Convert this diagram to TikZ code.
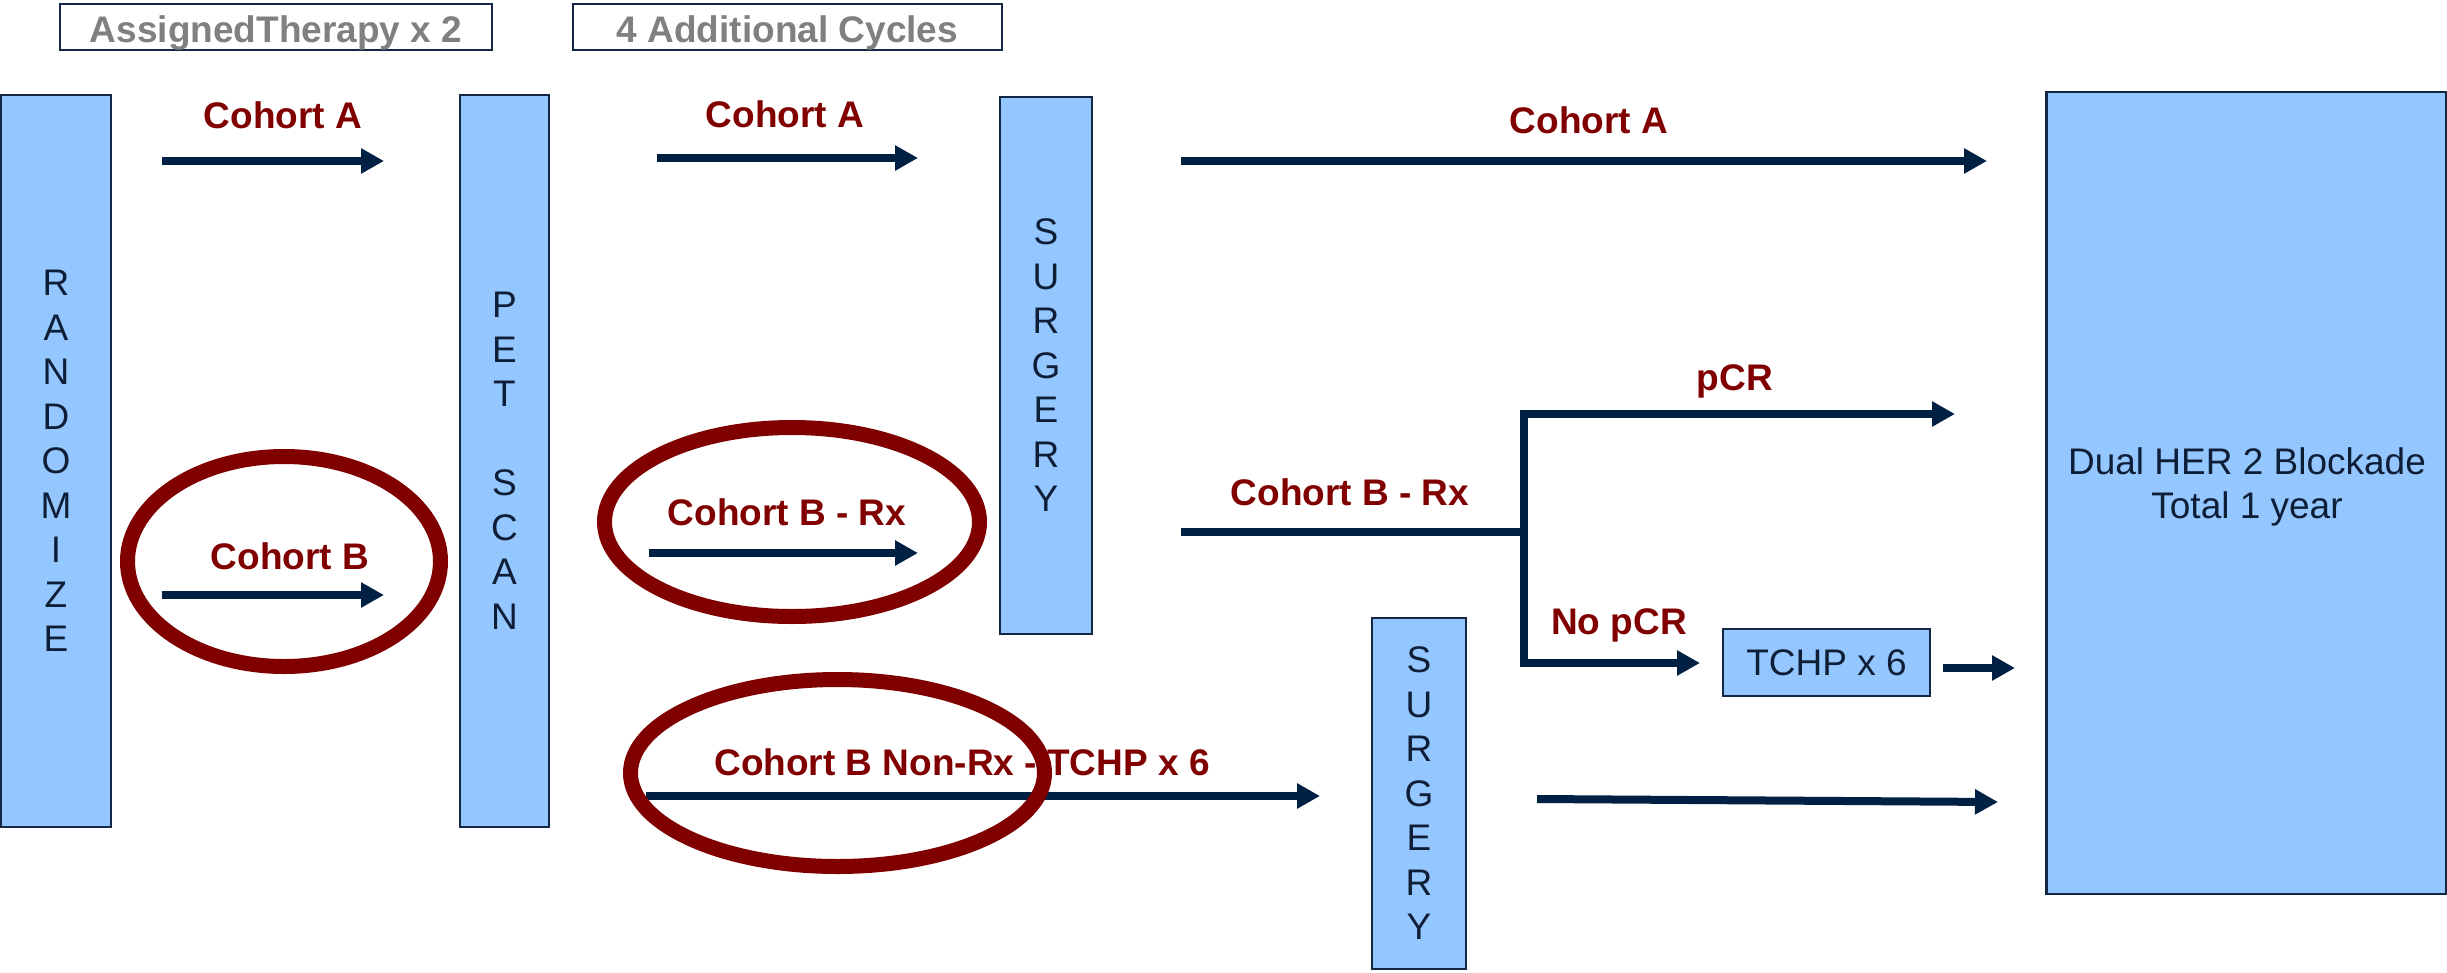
\documentclass[tikz,border=0pt]{standalone}
\usepackage{fontspec}
\setmainfont{Liberation Sans}
\usetikzlibrary{arrows.meta,shapes.geometric}
\definecolor{navy}{RGB}{0,33,68}
\definecolor{boxfill}{RGB}{148,199,255}
\definecolor{boxline}{RGB}{20,40,70}
\definecolor{maroon}{RGB}{128,0,0}
\definecolor{txtgray}{RGB}{128,128,128}
\definecolor{darktxt}{RGB}{15,30,55}
\begin{document}
\begin{tikzpicture}[x=1pt,y=-1pt,
  bluebox/.style={draw=boxline, fill=boxfill, line width=2.5pt, inner sep=0pt, outer sep=0pt, align=center, text=darktxt, font=\fontsize{37}{44.5}\selectfont},
  hdrbox/.style={draw=boxline, fill=white, line width=2.5pt, inner sep=0pt, outer sep=0pt, text=txtgray, text height=30pt, text depth=0pt, font=\bfseries\fontsize{37}{44}\selectfont},
  plaintxt/.style={inner sep=0pt, align=center, text=darktxt, font=\fontsize{37}{44.5}\selectfont},
  lbl/.style={text=maroon, font=\bfseries\fontsize{37}{44}\selectfont, anchor=base, inner sep=0pt},
  arr/.style={draw=navy, line width=8pt, -{Triangle[length=23pt,width=24pt]}},
  ln/.style={draw=navy, line width=8pt, line join=miter},
  ring/.style={draw=maroon, line width=15pt}
]
\useasboundingbox (0,0) rectangle (2447,972);

% header boxes
\node[hdrbox, minimum width=432pt, minimum height=46pt] (hdr1) at (276,27) {AssignedTherapy x 2};
\node[hdrbox, minimum width=429pt, minimum height=46pt] (hdr2) at (787.5,27) {4 Additional Cycles};

% vertical boxes
\node[bluebox, minimum width=110pt, minimum height=732pt] (rand) at (56,461) {R\\A\\N\\D\\O\\M\\I\\Z\\E};
\node[bluebox, minimum width=89pt, minimum height=732pt] (pet) at (504.5,461) {P\\E\\T\\[44.5pt]S\\C\\A\\N};
\node[bluebox, minimum width=92pt, minimum height=537pt] (surg1) at (1046,365.5) {S\\U\\R\\G\\E\\R\\Y};
\node[bluebox, minimum width=94pt, minimum height=351pt] (surg2) at (1419,793.5) {S\\U\\R\\G\\E\\R\\Y};
\node[bluebox, minimum width=400pt, minimum height=802pt] (dual) at (2246.5,493) {};
\node[plaintxt] (dualtxt) at (2247,487) {Dual HER 2 Blockade\\Total 1 year};
\node[bluebox, minimum width=207pt, minimum height=67pt] (tchp) at (1826.5,662.5) {TCHP x 6};

% coordinates for arrows
\coordinate (a1s) at (162,161); \coordinate (a1e) at (384,161);
\coordinate (a2s) at (657,158); \coordinate (a2e) at (918,158);
\coordinate (a3s) at (1181,161); \coordinate (a3e) at (1987,161);
\coordinate (bs) at (162,595); \coordinate (be) at (384,595);
\coordinate (brxs) at (649,553); \coordinate (brxe) at (918,553);
\coordinate (nrxs) at (646,796); \coordinate (nrxe) at (1320,796);
\coordinate (rxs) at (1181,532); \coordinate (branch) at (1524,532);
\coordinate (pcre) at (1955,414); \coordinate (npcre) at (1700,663);
\coordinate (ts) at (1943,668); \coordinate (te) at (2015,668);
\coordinate (bots) at (1537,799); \coordinate (bote) at (1998,802);

% arrows
\draw[arr] (a1s) -- (a1e);
\draw[arr] (a2s) -- (a2e);
\draw[arr] (a3s) -- (a3e);
\draw[arr] (bs) -- (be);
\draw[arr] (brxs) -- (brxe);
\draw[arr] (nrxs) -- (nrxe);
\draw[ln] (rxs) -- (branch);
\draw[arr] (branch) |- (pcre);
\draw[arr] (branch) |- (npcre);
\draw[arr] (ts) -- (te);
\draw[arr] (bots) -- (bote);

% labels
\node[lbl] (la1) at (283,128) {Cohort A};
\node[lbl] (la2) at (785,127) {Cohort A};
\node[lbl] (la3) at (1589,133) {Cohort A};
\node[lbl] (lb) at (290,569) {Cohort B};
\node[lbl] (lbrx) at (787,525) {Cohort B - Rx};
\node[lbl] (lrx) at (1350,505) {Cohort B - Rx};
\node[lbl] (lpcr) at (1735,390) {pCR};
\node[lbl] (lnpcr) at (1619,634) {No pCR};
\node[lbl] (lnrx) at (962,775) {Cohort B Non-Rx - TCHP x 6};

% highlight rings
\coordinate (r1) at (284,561.5);
\coordinate (r2) at (792,522);
\coordinate (r3) at (837.5,773);
\draw[ring] (r1) ellipse [x radius=156.5pt, y radius=105pt];
\draw[ring] (r2) ellipse [x radius=187.5pt, y radius=94.5pt];
\draw[ring] (r3) ellipse [x radius=207pt, y radius=93.5pt];
\end{tikzpicture}
\end{document}
